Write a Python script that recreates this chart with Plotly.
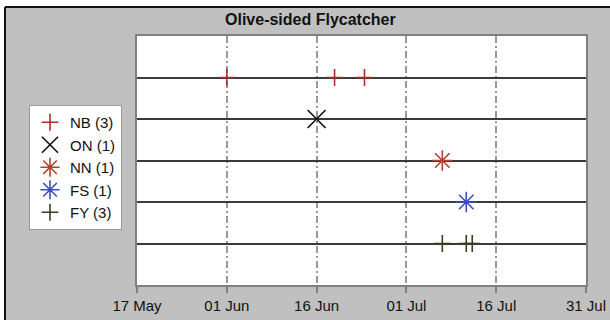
import plotly.graph_objects as go

# ---- data ----
title_text = "Olive-sided Flycatcher"
series_names = ["NB (3)", "ON (1)", "NN (1)", "FS (1)", "FY (3)"]
series_rows = [5, 4, 3, 2, 1]
nb_dates = ["2010-06-01", "2010-06-19", "2010-06-24"]
on_dates = ["2010-06-16"]
nn_dates = ["2010-07-07"]
fs_dates = ["2010-07-11"]
fy_dates = ["2010-07-07", "2010-07-11", "2010-07-12"]
tick_dates = ["2010-05-17", "2010-06-01", "2010-06-16", "2010-07-01", "2010-07-16", "2010-07-31"]
tick_labels = ["17 May", "01 Jun", "16 Jun", "01 Jul", "16 Jul", "31 Jul"]

series_dates = [nb_dates, on_dates, nn_dates, fs_dates, fy_dates]
colors = ["#b32a2a", "#111111", "#b5402c", "#3b4cc4", "#3d3d1c"]
symbols = ["cross-thin", "x-thin", "asterisk", "asterisk", "cross-thin"]
sizes = [12, 18, 17, 17, 12]

# ---- layout geometry (pixels) ----
W, H = 610, 320
L, R, T, B = 137, 586, 36, 285

def px_x(px):
    return (px - L) / (R - L)

def px_y(py):
    return (B - py) / (B - T)

fig = go.Figure()
for name, row, dates, c, s, sz in zip(series_names, series_rows, series_dates, colors, symbols, sizes):
    fig.add_trace(go.Scatter(
        x=dates, y=[row] * len(dates), mode="markers", name=name,
        marker=dict(symbol=s, size=sz, color=c, line=dict(color=c, width=1.6)),
        cliponaxis=False,
    ))

fig.update_layout(
    width=W, height=H,
    margin=dict(l=L, r=W - R, t=T, b=H - B, pad=0, autoexpand=False),
    paper_bgcolor="#c0c0c0",
    plot_bgcolor="white",
    font=dict(family="Arial, Liberation Sans, sans-serif", size=15, color="#111111"),
    showlegend=True,
    legend=dict(
        x=px_x(29), y=px_y(105), xanchor="left", yanchor="top",
        bgcolor="white", bordercolor="#9a9a9a", borderwidth=1,
        font=dict(size=15), itemwidth=30, tracegroupgap=0,
    ),
    xaxis=dict(
        type="date", range=[tick_dates[0], tick_dates[-1]],
        tickvals=tick_dates, ticktext=tick_labels,
        showgrid=True, gridcolor="#999999", gridwidth=1.5, griddash="7px,3px,2px,3px",
        showline=True, linecolor="#808080", linewidth=1.5, mirror=True,
        ticks="outside", ticklen=6, tickcolor="#808080", tickwidth=1.5,
        zeroline=False, fixedrange=True,
    ),
    yaxis=dict(
        range=[0, 6], tickvals=series_rows, showticklabels=False,
        showgrid=True, gridcolor="#3a3a3a", gridwidth=1.5,
        showline=True, linecolor="#808080", linewidth=1.5, mirror=True,
        ticks="", zeroline=False, fixedrange=True,
    ),
    annotations=[dict(
        text="<b>" + title_text + "</b>", x=px_x(310), y=px_y(19),
        xref="paper", yref="paper", xanchor="center", yanchor="middle",
        showarrow=False, font=dict(size=16, color="#111111"),
    )],
    shapes=[
        # white strips outside the black frame
        dict(type="rect", xref="paper", yref="paper", x0=px_x(-10), x1=px_x(5), y0=px_y(330), y1=px_y(-10),
             fillcolor="white", line=dict(width=0), layer="below"),
        dict(type="rect", xref="paper", yref="paper", x0=px_x(-10), x1=px_x(620), y0=px_y(7), y1=px_y(-10),
             fillcolor="white", line=dict(width=0), layer="below"),
        # black frame
        dict(type="line", xref="paper", yref="paper", x0=px_x(5), x1=px_x(5), y0=px_y(7), y1=px_y(330),
             line=dict(color="#111111", width=2)),
        dict(type="line", xref="paper", yref="paper", x0=px_x(5), x1=px_x(620), y0=px_y(7), y1=px_y(7),
             line=dict(color="#111111", width=2)),
    ],
)

fig.write_html(
    "out.html",
    post_script="document.body.style.margin='0';document.body.style.overflow='hidden';",
    config={"displayModeBar": False},
)
